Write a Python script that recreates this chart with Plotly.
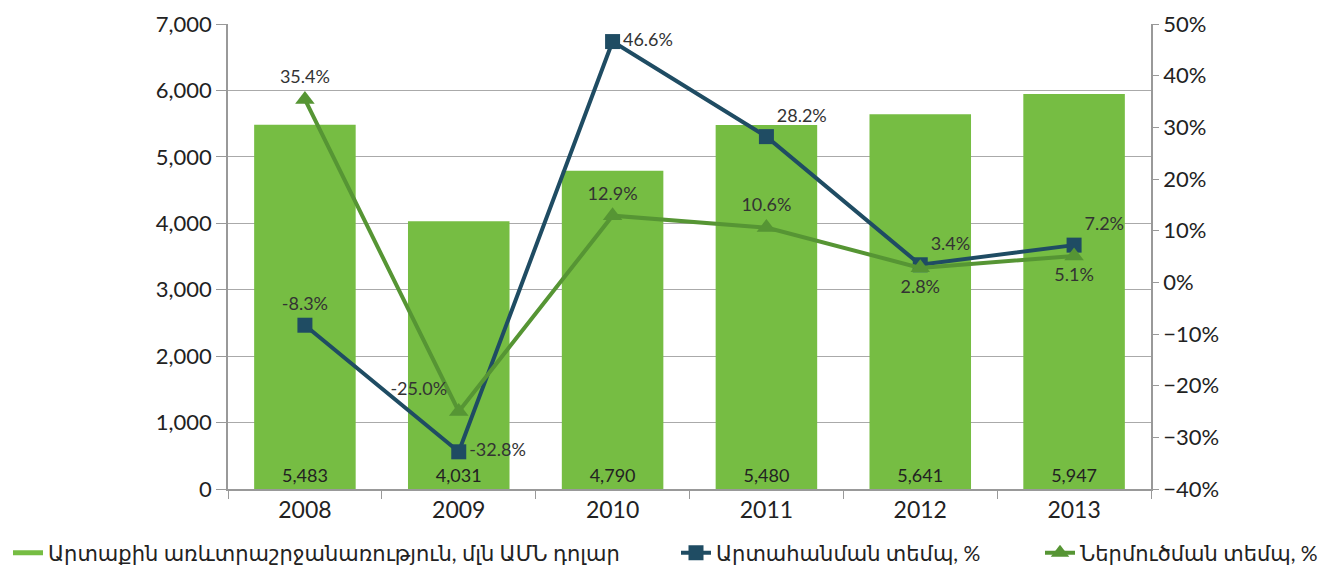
import plotly.graph_objects as go

years = ["2008", "2009", "2010", "2011", "2012", "2013"]
trade = [5483, 4031, 4790, 5480, 5641, 5947]
export_growth = [-8.3, -32.8, 46.6, 28.2, 3.4, 7.2]
import_growth = [35.4, -25.0, 12.9, 10.6, 2.8, 5.1]

bar_name = "Արտաքին առևտրաշրջանառություն, մլն ԱՄՆ դոլար"
export_name = "Արտահանման տեմպ, %"
import_name = "Ներմուծման տեմպ, %"

font = "Lato, DejaVu Sans, sans-serif"
bar_color = "#76bd43"
export_color = "#1f4c63"
import_color = "#569534"

fig = go.Figure()

fig.add_trace(go.Bar(
    x=years, y=trade, name=bar_name, showlegend=False,
    marker=dict(color=bar_color, line=dict(width=0)),
    width=0.66,
    text=[f"{v:,}" for v in trade], textposition="inside",
    insidetextanchor="start", textangle=0,
    textfont=dict(size=18, color="#222222", family=font),
))
# legend proxy for bars (shown as a line, as in the original)
fig.add_trace(go.Scatter(
    x=[None], y=[None], mode="lines", name=bar_name, legend="legend",
    line=dict(color=bar_color, width=5),
))

fig.add_trace(go.Scatter(
    x=years, y=export_growth, name=export_name, yaxis="y2", legend="legend2",
    mode="lines+markers+text",
    line=dict(color=export_color, width=4),
    marker=dict(symbol="square", size=15, color=export_color),
    text=[f"{v:.1f}%" for v in export_growth],
    textposition=["top center", "middle right", "middle right",
                  "top right", "top right", "top right"],
    textfont=dict(size=18, color="#333333", family=font),
))

fig.add_trace(go.Scatter(
    x=years, y=import_growth, name=import_name, yaxis="y2", legend="legend3",
    mode="lines+markers+text",
    line=dict(color=import_color, width=4),
    marker=dict(symbol="triangle-up", size=17, color=import_color),
    text=[f"{v:.1f}%" for v in import_growth],
    textposition=["top center", "top left", "top center",
                  "top center", "bottom center", "bottom center"],
    textfont=dict(size=18, color="#333333", family=font),
))

legend_style = dict(
    orientation="h", xref="container", yref="container", xanchor="left",
    y=0.037, yanchor="middle", font=dict(size=21, color="#222222"),
    itemwidth=30, bgcolor="rgba(0,0,0,0)",
)

fig.update_layout(
    width=1327, height=566,
    margin=dict(l=220, r=184, t=16, b=85, autoexpand=False),
    plot_bgcolor="white", paper_bgcolor="white",
    font=dict(family=font, size=22, color="#222222"),
    bargap=0.34,
    xaxis=dict(
        type="category", showline=True, linecolor="#999999", linewidth=1.5,
        ticks="outside", tickson="boundaries", ticklen=8, tickcolor="#999999",
        tickfont=dict(size=23), showgrid=False,
    ),
    yaxis=dict(
        range=[0, 7000], dtick=1000, tickformat=",",
        showline=True, linecolor="#999999", linewidth=1.5,
        ticks="outside", ticklen=10, tickcolor="#999999",
        showgrid=True, gridcolor="#aaaaaa", gridwidth=1.2,
        zeroline=False, tickfont=dict(size=22), ticklabeloverflow="allow",
    ),
    yaxis2=dict(
        range=[-40, 50], dtick=10, ticksuffix="%", overlaying="y", side="right",
        showline=True, linecolor="#999999", linewidth=1.5,
        ticks="outside", ticklen=6, tickcolor="#999999",
        showgrid=False, zeroline=False, tickfont=dict(size=22),
        ticklabeloverflow="allow",
    ),
    legend=dict(legend_style, x=0.0),
    legend2=dict(legend_style, x=668 / 1327),
    legend3=dict(legend_style, x=1032 / 1327),
)

fig.write_html("out.html")
